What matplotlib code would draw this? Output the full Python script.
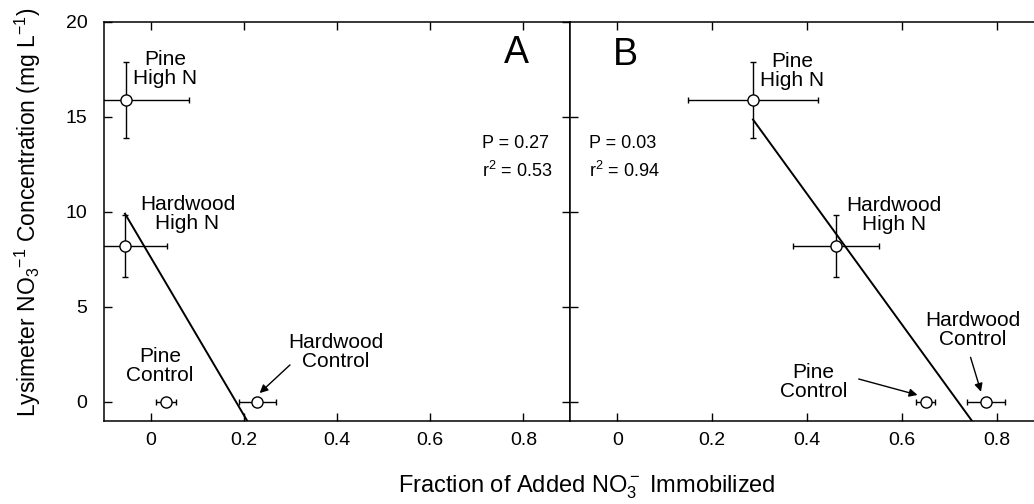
import numpy as np
import matplotlib
matplotlib.use('Agg')
import matplotlib.pyplot as plt

# data
names = ['Pine High N', 'Hardwood High N', 'Pine Control', 'Hardwood Control']
conc = [15.9, 8.2, 0.0, 0.0]            # lysimeter NO3 (mg/L)
conc_err = [2.0, 1.63, 0.0, 0.0]

frac_a = [-0.053, -0.055, 0.033, 0.229]  # panel A x
frac_a_err = [0.136, 0.09, 0.021, 0.04]
frac_b = [0.286, 0.461, 0.650, 0.777]    # panel B x
frac_b_err = [0.137, 0.09, 0.02, 0.04]

stats_a = ['P = 0.27', r'r$^2$ = 0.53']
stats_b = ['P = 0.03', r'r$^2$ = 0.94']

base = 'Liberation Sans'
plt.rcParams['font.family'] = [base, 'DejaVu Sans']
plt.rcParams['mathtext.fontset'] = 'custom'
plt.rcParams['mathtext.rm'] = base
plt.rcParams['mathtext.it'] = base + ':italic'

fig = plt.figure(figsize=(10.34, 5.04), dpi=100)
axA = fig.add_axes([0.1006, 0.1647, 0.4507, 0.7917])
axB = fig.add_axes([0.5513, 0.1647, 0.4584, 0.7917])


def panel(ax, x, xerr):
    ax.errorbar(x, conc, xerr=xerr, yerr=conc_err, fmt='o', ms=8,
                mfc='white', mec='black', mew=1.0, ecolor='black',
                elinewidth=1.0, capsize=2.5, capthick=1.0, color='black', zorder=3)
    slope, icpt = np.polyfit(x, conc, 1)
    xs = np.array([min(x), max(x)])
    ax.plot(xs, icpt + slope * xs, color='black', lw=1.4, zorder=2)
    ax.set_xlim(-0.1, 0.9)
    ax.set_ylim(-1, 20)
    ax.set_xticks([0, 0.2, 0.4, 0.6, 0.8])
    ax.set_xticklabels(['0', '0.2', '0.4', '0.6', '0.8'])
    ax.set_yticks([0, 5, 10, 15, 20])
    ax.tick_params(direction='in', length=6, width=1, top=True, right=True,
                   labelsize=14)
    ax.tick_params(axis='x', pad=8)
    ax.tick_params(axis='y', pad=12)
    for s in ax.spines.values():
        s.set_linewidth(1.1)


panel(axA, frac_a, frac_a_err)
panel(axB, frac_b, frac_b_err)
axB.tick_params(labelleft=False)
axB.set_yticks([0, 5, 10, 15])

fs = 15
kw = dict(ha='center', va='center', fontsize=fs, linespacing=1.0)

# panel A labels
axA.text(0.786, 18.37, 'A', fontsize=27, ha='center', va='center')
axA.text(0.031, 17.5, 'Pine\nHigh N', **kw)
axA.text(0.079, 9.87, 'Hardwood\nHigh N', **kw)
axA.text(0.02, 1.92, 'Pine\nControl', **kw)
axA.text(0.397, 2.63, 'Hardwood\nControl', **kw)
axA.annotate('', xy=(0.234, 0.47), xytext=(0.299, 1.95),
             arrowprops=dict(arrowstyle='-|>', color='black', lw=1.0,
                             mutation_scale=12, shrinkA=0, shrinkB=0))
axA.text(0.711, 13.58, stats_a[0], fontsize=13, ha='left', va='center')
axA.text(0.711, 12.16, stats_a[1], fontsize=13, ha='left', va='center')

# panel B labels
axB.text(0.016, 18.26, 'B', fontsize=27, ha='center', va='center')
axB.text(0.369, 17.4, 'Pine\nHigh N', **kw)
axB.text(0.583, 9.84, 'Hardwood\nHigh N', **kw)
axB.text(0.414, 1.07, 'Pine\nControl', **kw)
axB.text(0.750, 3.79, 'Hardwood\nControl', **kw)
axB.annotate('', xy=(0.633, 0.37), xytext=(0.509, 1.21),
             arrowprops=dict(arrowstyle='-|>', color='black', lw=1.0,
                             mutation_scale=12, shrinkA=0, shrinkB=0))
axB.annotate('', xy=(0.767, 0.54), xytext=(0.745, 2.35),
             arrowprops=dict(arrowstyle='-|>', color='black', lw=1.0,
                             mutation_scale=12, shrinkA=0, shrinkB=0))
axB.text(-0.059, 13.58, stats_b[0], fontsize=13, ha='left', va='center')
axB.text(-0.059, 12.16, stats_b[1], fontsize=13, ha='left', va='center')

fig.text(0.027, 0.579, r'Lysimeter NO$_3$$^{-1}$ Concentration (mg L$^{-1}$)',
         rotation=90, ha='center', va='center', fontsize=16.5)
fig.text(0.568, 0.034, r'Fraction of Added NO$_3^-$ Immobilized',
         ha='center', va='center', fontsize=17)

fig.savefig('out.png', dpi=100)
